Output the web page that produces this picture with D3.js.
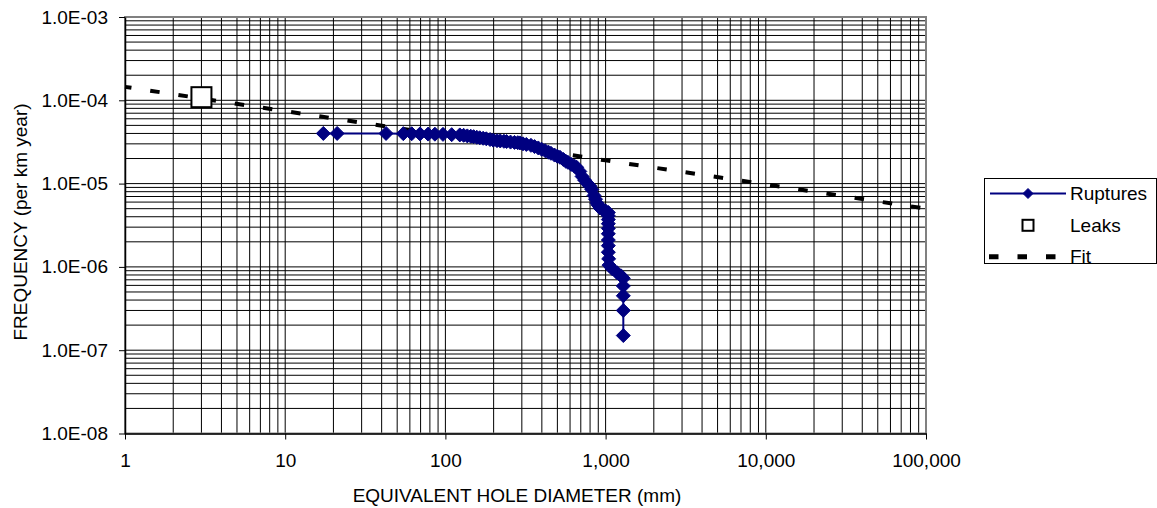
<!DOCTYPE html>
<html>
<head>
<meta charset="utf-8">
<script src="https://cdn.jsdelivr.net/npm/d3@7"></script>
<style>
  html, body { margin: 0; padding: 0; background: #ffffff; }
  svg { display: block; }
  text { font-family: "Liberation Sans", Arial, sans-serif; fill: #000; }
</style>
</head>
<body>
<svg id="chart" width="1157" height="508"></svg>
<script>
// ---- Data ----
const xTickValues = [1, 10, 100, 1000, 10000, 100000];
const xTickLabels = ["1", "10", "100", "1,000", "10,000", "100,000"];
const yTickValues = [1e-8, 1e-7, 1e-6, 1e-5, 1e-4, 1e-3];
const yTickLabels = ["1.0E-08", "1.0E-07", "1.0E-06", "1.0E-05", "1.0E-04", "1.0E-03"];

const ruptureDiameter = [17.3, 21.1, 42.6, 54.6, 61.6, 69.4, 78, 86, 96.6, 109.5, 123, 130, 137, 144, 150, 157, 164, 172, 180, 190,
  199, 210, 220, 232, 241, 255, 270, 283, 292, 305, 320, 342, 360, 380, 399, 420, 440, 456, 480, 500,
  519, 545, 565, 582, 610, 640, 660, 690, 713, 740, 770, 799, 820, 847, 865, 884, 900, 922, 960, 1000,
  1040, 1040, 1040, 1040, 1040, 1040, 1040, 1040, 1040, 1045, 1050, 1100, 1180, 1250, 1290, 1290, 1290, 1290, 1290];
const ruptureFrequency = [4.0e-5, 4.0e-5, 4.0e-5, 3.98e-5, 3.97e-5, 3.95e-5, 3.93e-5, 3.92e-5, 3.9e-5, 3.87e-5, 3.84e-5, 3.8e-5, 3.74e-5, 3.7e-5, 3.66e-5, 3.6e-5, 3.55e-5, 3.5e-5, 3.45e-5, 3.38e-5,
  3.32e-5, 3.28e-5, 3.25e-5, 3.22e-5, 3.2e-5, 3.15e-5, 3.12e-5, 3.1e-5, 3.08e-5, 3.0e-5, 2.95e-5, 2.88e-5, 2.78e-5, 2.68e-5, 2.58e-5, 2.48e-5, 2.38e-5, 2.31e-5, 2.2e-5, 2.13e-5,
  2.07e-5, 1.95e-5, 1.85e-5, 1.8e-5, 1.7e-5, 1.62e-5, 1.57e-5, 1.4e-5, 1.22e-5, 1.1e-5, 1.0e-5, 9.3e-6, 8.5e-6, 7.2e-6, 6.5e-6, 5.8e-6, 5.5e-6, 5.1e-6, 4.9e-6, 4.7e-6,
  4.5e-6, 4.1e-6, 3.7e-6, 3.3e-6, 2.9e-6, 2.5e-6, 2.1e-6, 1.8e-6, 1.5e-6, 1.25e-6, 1.05e-6, 9.5e-7, 8.5e-7, 7.8e-7, 7.3e-7, 5.9e-7, 4.5e-7, 3.0e-7, 1.5e-7];

const leakDiameter = [3.0];
const leakFrequency = [1.09e-4];

const fitDiameter = [1, 10, 100, 1000, 10000, 100000];
const fitFrequency = [1.45e-4, 7.4e-5, 3.8e-5, 1.9e-5, 9.8e-6, 5.0e-6];

const seriesNames = ["Ruptures", "Leaks", "Fit"];
const xTitle = "EQUIVALENT HOLE DIAMETER (mm)";
const yTitle = "FREQUENCY (per km year)";

// ---- Layout ----
const FONT = 19;
const plot = { left: 125, right: 926, top: 17, bottom: 433.5 };
const svg = d3.select("#chart");

const x = d3.scaleLog().domain([1, 1e5]).range([plot.left, plot.right]);
const y = d3.scaleLog().domain([1e-8, 1e-3]).range([plot.bottom, plot.top]);

// gridlines (major + minor)
const xGrid = [];
for (let e = 0; e < 5; e++) for (let m = 1; m <= 9; m++) xGrid.push(m * Math.pow(10, e));
xGrid.push(1e5);
const yGrid = [];
for (let e = -8; e < -3; e++) for (let m = 1; m <= 9; m++) yGrid.push(m * Math.pow(10, e));
yGrid.push(1e-3);

const grid = svg.append("g");
grid.selectAll("line.vx").data(xGrid).join("line")
  .attr("x1", d => x(d)).attr("x2", d => x(d))
  .attr("y1", plot.top).attr("y2", plot.bottom)
  .attr("stroke", "#000").attr("stroke-width", 1);
grid.selectAll("line.hy").data(yGrid).join("line")
  .attr("x1", plot.left).attr("x2", plot.right)
  .attr("y1", d => y(d)).attr("y2", d => y(d))
  .attr("stroke", "#000").attr("stroke-width", 1);

// plot border (grey)
svg.append("rect")
  .attr("x", plot.left).attr("y", plot.top)
  .attr("width", plot.right - plot.left).attr("height", plot.bottom - plot.top)
  .attr("fill", "none").attr("stroke", "#808080").attr("stroke-width", 2);

// axes
const xAxis = d3.axisBottom(x).tickValues(xTickValues)
  .tickFormat((d, i) => xTickLabels[i]).tickSize(6).tickSizeOuter(0).tickPadding(14);
const gx = svg.append("g").attr("transform", `translate(0,${plot.bottom})`).call(xAxis);
gx.select(".domain").attr("stroke", "#000").attr("stroke-width", 1.5);
gx.selectAll(".tick line").attr("stroke", "#000");
gx.selectAll("text").attr("font-size", FONT).attr("font-family", "Liberation Sans, Arial, sans-serif").attr("fill", "#000");

const yAxis = d3.axisLeft(y).tickValues(yTickValues)
  .tickFormat((d, i) => yTickLabels[i]).tickSize(6).tickSizeOuter(0).tickPadding(11);
const gy = svg.append("g").attr("transform", `translate(${plot.left},0)`).call(yAxis);
gy.select(".domain").attr("stroke", "#000").attr("stroke-width", 1.5);
gy.selectAll(".tick line").attr("stroke", "#000");
gy.selectAll("text").attr("font-size", FONT).attr("font-family", "Liberation Sans, Arial, sans-serif").attr("fill", "#000");

// axis titles
svg.append("text").attr("x", 517).attr("y", 502)
  .attr("text-anchor", "middle").attr("font-size", FONT).text(xTitle);
svg.append("text")
  .attr("transform", `translate(27,222) rotate(-90)`)
  .attr("text-anchor", "middle").attr("font-size", FONT).text(yTitle);

// Fit series (dashed)
const fitData = fitDiameter.map((d, i) => [d, fitFrequency[i]]);
svg.append("path").datum(fitData)
  .attr("d", d3.line().x(d => x(d[0])).y(d => y(d[1])))
  .attr("fill", "none").attr("stroke", "#000").attr("stroke-width", 4)
  .attr("stroke-dasharray", "9.5,19").attr("stroke-dashoffset", 3);

// Ruptures series
const rupData = ruptureDiameter.map((d, i) => [d, ruptureFrequency[i]]);
const NAVY = "#000080";
svg.append("path").datum(rupData)
  .attr("d", d3.line().x(d => x(d[0])).y(d => y(d[1])))
  .attr("fill", "none").attr("stroke", NAVY).attr("stroke-width", 2);
const diamond = r => `M0,${-r}L${r},0L0,${r}L${-r},0Z`;
svg.append("g").selectAll("path").data(rupData).join("path")
  .attr("transform", d => `translate(${x(d[0])},${y(d[1])})`)
  .attr("d", diamond(7)).attr("fill", NAVY).attr("stroke", NAVY).attr("stroke-width", 1);

// Leaks series
const leakData = leakDiameter.map((d, i) => [d, leakFrequency[i]]);
svg.append("g").selectAll("rect").data(leakData).join("rect")
  .attr("x", d => x(d[0]) - 10).attr("y", d => y(d[1]) - 10)
  .attr("width", 20).attr("height", 20)
  .attr("fill", "#fff").attr("stroke", "#000").attr("stroke-width", 2);

// Legend
const lg = svg.append("g");
lg.append("rect").attr("x", 984.5).attr("y", 178.5).attr("width", 172).attr("height", 85)
  .attr("fill", "#fff").attr("stroke", "#000").attr("stroke-width", 1);
const rowY = [193.5, 225.3, 256.7];
// Ruptures
lg.append("line").attr("x1", 990).attr("x2", 1066).attr("y1", rowY[0]).attr("y2", rowY[0])
  .attr("stroke", NAVY).attr("stroke-width", 2);
lg.append("path").attr("transform", `translate(1028,${rowY[0]})`).attr("d", diamond(5))
  .attr("fill", NAVY).attr("stroke", NAVY);
// Leaks
lg.append("rect").attr("x", 1028 - 5.5).attr("y", rowY[1] - 5.5).attr("width", 11).attr("height", 11)
  .attr("fill", "#fff").attr("stroke", "#000").attr("stroke-width", 2);
// Fit
lg.append("line").attr("x1", 989).attr("x2", 1066).attr("y1", rowY[2]).attr("y2", rowY[2])
  .attr("stroke", "#000").attr("stroke-width", 5).attr("stroke-dasharray", "9.5,19");
lg.selectAll("text.lbl").data(seriesNames).join("text")
  .attr("x", 1070).attr("y", (d, i) => rowY[i]).attr("dy", "0.35em")
  .attr("font-size", FONT).text(d => d);
</script>
</body>
</html>
